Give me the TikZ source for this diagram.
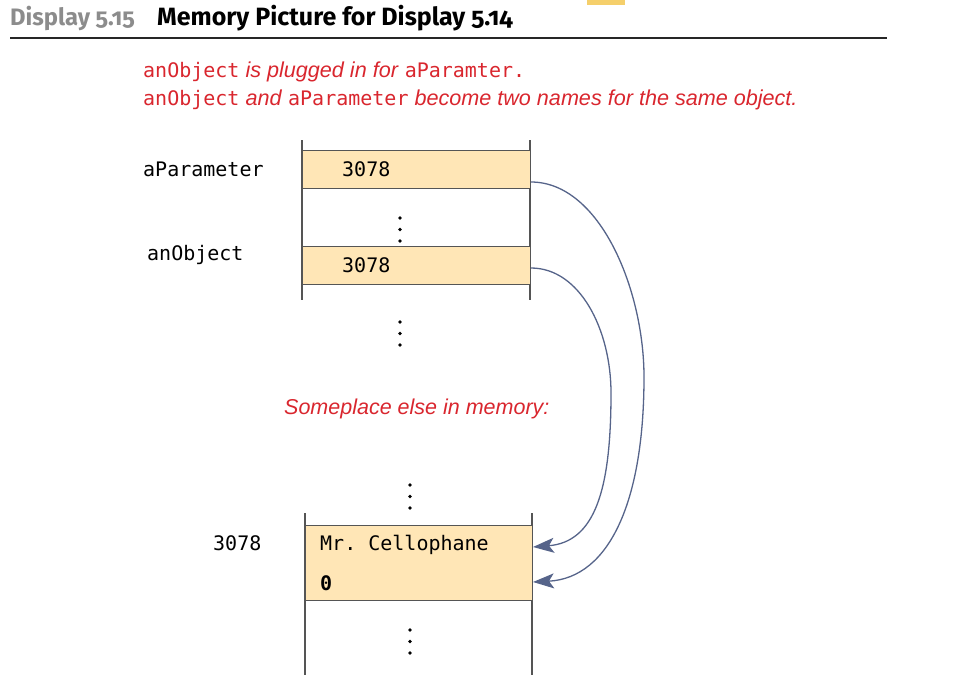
\documentclass[tikz,border=0pt]{standalone}
\usepackage{fontspec}
\setmainfont{Liberation Sans}
\setmonofont{DejaVu Sans Mono}
\newfontfamily\titlefont[Numbers=OldStyle]{Fira Sans}
\usetikzlibrary{arrows.meta}
\definecolor{cellfill}{HTML}{FFE6B6}
\definecolor{cellline}{HTML}{555555}
\definecolor{ptrcol}{HTML}{56648A}
\definecolor{notered}{HTML}{D9262E}
\definecolor{titlegray}{HTML}{8C8C8C}
\definecolor{barcol}{HTML}{F5CF6B}
\tikzset{
  cell/.style={draw=cellline, line width=1.4pt, fill=cellfill, minimum width=228pt, inner sep=0pt, anchor=north west},
  colline/.style={cellline, line width=1.4pt},
  code/.style={font=\ttfamily\fontsize{20}{24}\selectfont, inner sep=0pt, anchor=base west},
  note/.style={text=notered, font=\fontsize{21.6}{25}\selectfont, inner sep=0pt, anchor=base west},
  ptr/.style={ptrcol, line width=1.3pt, -{Stealth[length=21pt, width=15pt, inset=5pt]}},
  dot/.style={circle, fill=black, inner sep=0pt, minimum size=3.8pt},
}
\newcommand{\vdotsat}[3]{%
  \node[dot] (#1a) at (#2,#3) {};
  \node[dot] (#1b) at (#2,#3+11.5) {};
  \node[dot] (#1c) at (#2,#3+23) {};
}
\begin{document}
\begin{tikzpicture}[x=1pt, y=-1pt]
\useasboundingbox (0,0) rectangle (958,678);
% top bar
\fill[barcol] (587,0) rectangle (625,5);
% title
\node[inner sep=0pt, anchor=base west, text=titlegray, font=\titlefont\bfseries\fontsize{23.8}{27}\selectfont] (disp) at (10,25) {Display 5.15};
\node[inner sep=0pt, anchor=base west, font=\titlefont\bfseries\fontsize{25}{29}\selectfont] (title) at (157,25) {Memory Picture for Display 5.14};
\draw[line width=1.5pt, black!85] (10,38) -- (887,38);
% notes
\node[note] (n1) at (143,77) {\texttt{\fontsize{20}{24}\selectfont anObject} \textit{is plugged in for} \texttt{\fontsize{20}{24}\selectfont aParamter.}};
\node[note] (n2) at (143,105) {\texttt{\fontsize{20}{24}\selectfont anObject} \textit{and} \texttt{\fontsize{20}{24}\selectfont aParameter} \textit{become two names for the same object.}};
% first memory column
\draw[colline] (302,140) -- (302,300);
\draw[colline] (530,140) -- (530,300);
\node[cell, minimum height=38pt] (c1) at (302,150) {};
\node[cell, minimum height=38pt] (c2) at (302,246) {};
\node[code] (v1) at (342,176) {3078};
\node[code] (v2) at (342,272) {3078};
\node[code] (l1) at (143,176) {aParameter};
\node[code] (l2) at (147,260) {anObject};
\vdotsat{d1}{400}{218}
\vdotsat{d2}{400}{322}
\node[note, font=\itshape\fontsize{21.5}{25}\selectfont] (some) at (284,414) {Someplace else in memory:};
\vdotsat{d3}{410}{485}
% second memory column
\draw[colline] (305,513) -- (305,675);
\draw[colline] (532,513) -- (532,675);
\node[cell, minimum width=227pt, minimum height=75pt] (obj) at (305,525) {};
\node[code] (name) at (320,550) {Mr. Cellophane};
\node[code, font=\ttfamily\bfseries\fontsize{20}{24}\selectfont] (zero) at (320,590) {0};
\node[code] (addr) at (213,550) {3078};
\vdotsat{d4}{410}{630}
% pointers
\coordinate (s1) at (531,182);
\coordinate (s2) at (531,268);
\coordinate (e1) at (533,582);
\coordinate (e2) at (533,547);
\draw[ptr] (s1) .. controls (600,182) and (644,290) .. (644,377)
              .. controls (644,500) and (610,578) .. (e1);
\draw[ptr] (s2) .. controls (580,268) and (611,330) .. (611,393)
              .. controls (611,490) and (595,542) .. (e2);
\end{tikzpicture}
\end{document}
